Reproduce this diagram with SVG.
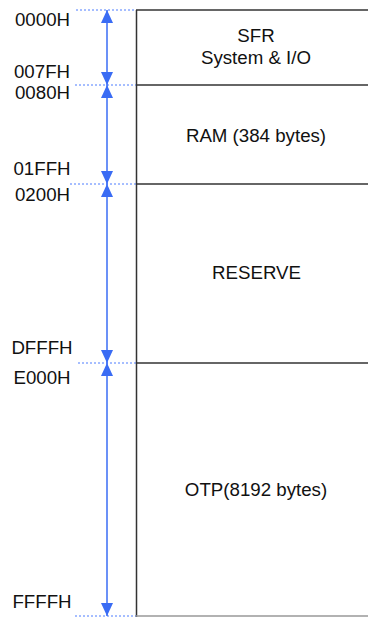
<svg xmlns="http://www.w3.org/2000/svg" width="368" height="617" viewBox="0 0 368 617">
<style>
text{font-family:"Liberation Sans",Arial,sans-serif;font-size:18.7px;fill:#111}
.c{text-anchor:middle}
.div{stroke:#333;stroke-width:1.5;fill:none}
.dot{stroke:#4d7cff;stroke-width:1;stroke-dasharray:2,2;fill:none}
.arr{stroke:#3a6cf4;stroke-width:1.5;fill:none;marker-start:url(#ah);marker-end:url(#ah)}
</style>
<defs>
<marker id="ah" viewBox="0 0 13 12" refX="13" refY="6" markerWidth="13" markerHeight="12" markerUnits="userSpaceOnUse" orient="auto-start-reverse">
<path d="M0,0 L13,6 L0,12 Z" fill="#3a6cf4"/>
</marker>
</defs>
<rect width="368" height="617" fill="#fff"/>
<g id="connectors">
<line class="dot" x1="76" y1="10" x2="136" y2="10"/>
<line class="dot" x1="75" y1="85" x2="136" y2="85"/>
<line class="dot" x1="70" y1="184" x2="136" y2="184"/>
<line class="dot" x1="78" y1="363" x2="136" y2="363"/>
<line class="dot" x1="75" y1="616" x2="136" y2="616"/>
<line class="arr" x1="107" y1="10" x2="107" y2="85"/>
<line class="arr" x1="107" y1="85" x2="107" y2="184"/>
<line class="arr" x1="107" y1="184" x2="107" y2="363"/>
<line class="arr" x1="107" y1="363" x2="107" y2="616"/>
</g>
<g id="frame">
<line class="div" x1="136.5" y1="10" x2="136.5" y2="617"/>
<line class="div" x1="136" y1="10" x2="368" y2="10"/>
<line x1="136" y1="616" x2="368" y2="616" stroke="#999" stroke-width="1.5"/>
</g>
<g id="sfr">
<line class="div" x1="136" y1="85" x2="368" y2="85"/>
<text class="c" x="256" y="42">SFR</text>
<text class="c" x="256" y="63.5">System &amp; I/O</text>
</g>
<g id="ram">
<line class="div" x1="136" y1="184" x2="368" y2="184"/>
<text class="c" x="256" y="141.5">RAM (384 bytes)</text>
</g>
<g id="reserve">
<line class="div" x1="136" y1="363" x2="368" y2="363"/>
<text class="c" x="256.5" y="279">RESERVE</text>
</g>
<g id="otp">
<text class="c" x="256" y="496">OTP(8192 bytes)</text>
</g>
<g id="addresses">
<text class="c" x="42.5" y="26">0000H</text>
<text class="c" x="42" y="78">007FH</text>
<text class="c" x="42.5" y="99">0080H</text>
<text class="c" x="42" y="175">01FFH</text>
<text class="c" x="42.5" y="200.5">0200H</text>
<text class="c" x="42" y="354">DFFFH</text>
<text class="c" x="42" y="384">E000H</text>
<text class="c" x="42" y="608">FFFFH</text>
</g>
</svg>
